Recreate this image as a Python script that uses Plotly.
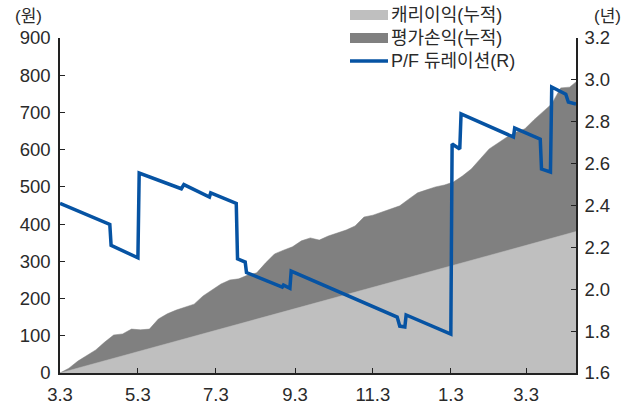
import pandas as pd
import plotly.graph_objects as go

# ---- data ----
start_date = "2022-03-03"
end_date = "2023-04-11"

# cumulative total (carry + valuation), weekly from 3.3, last point = 4.11
total_dates = list(pd.date_range(start_date, periods=58, freq="7D").strftime("%Y-%m-%d")) + [end_date]
total_values = [0, 13, 32, 48, 62, 83, 102, 105, 118, 116,
                118, 145, 159, 169, 177, 185, 207, 223, 239, 250,
                253, 263, 269, 296, 320, 330, 339, 355, 363, 357,
                368, 376, 384, 395, 419, 424, 433, 441, 449, 467,
                484, 492, 500, 505, 513, 529, 548, 575, 602, 618,
                634, 647, 656, 680, 701, 723, 766, 768, 782]

carry_dates = ["2022-03-03", "2022-05-03", "2022-07-03", "2022-09-03",
               "2022-11-03", "2023-01-03", "2023-03-03", "2023-04-11"]
carry_values = [0, 57, 115, 173, 230, 287, 343, 380]

dur_dates = ["2022-03-03", "2022-04-11", "2022-04-12", "2022-05-03", "2022-05-04",
             "2022-06-06", "2022-06-08", "2022-06-28", "2022-06-29", "2022-07-19",
             "2022-07-20", "2022-07-26", "2022-07-27", "2022-08-24", "2022-08-25",
             "2022-08-30", "2022-08-31", "2022-11-22", "2022-11-24", "2022-11-28",
             "2022-11-29", "2023-01-03", "2023-01-04", "2023-01-10", "2023-01-11",
             "2023-02-21", "2023-02-22", "2023-03-14", "2023-03-15", "2023-03-22",
             "2023-03-23", "2023-04-03", "2023-04-05", "2023-04-11"]
dur_values = [2.41, 2.31, 2.21, 2.15, 2.555,
              2.48, 2.50, 2.44, 2.46, 2.41,
              2.145, 2.13, 2.08, 2.01, 2.02,
              2.005, 2.087, 1.867, 1.824, 1.82,
              1.877, 1.786, 2.694, 2.67, 2.837,
              2.727, 2.77, 2.717, 2.574, 2.56,
              2.966, 2.932, 2.894, 2.885]

tick_dates = ["2022-03-03", "2022-05-03", "2022-07-03", "2022-09-03",
              "2022-11-03", "2023-01-03", "2023-03-03"]
tick_labels = ["3.3", "5.3", "7.3", "9.3", "11.3", "1.3", "3.3"]

series_names = ["캐리이익(누적)", "평가손익(누적)", "P/F 듀레이션(R)"]

# ---- styles ----
FONT = "Liberation Sans, Arial, Noto Sans CJK KR, sans-serif"
LIGHT = "#BFBFBF"
DARK = "#808080"
BLUE = "#0653A3"
TXT = "#2a2a2a"
TICKFONT = dict(size=18.5, color=TXT)

W, H = 637, 405
ML, MR, MT, MB = 60, 61, 38, 32
PW, PH = W - ML - MR, H - MT - MB


def px(x):
    return (x - ML) / PW


def py(y):
    return (H - MB - y) / PH


fig = go.Figure()
fig.add_trace(go.Scatter(
    x=total_dates, y=total_values, name=series_names[1], mode="lines",
    fill="tozeroy", fillcolor=DARK, line=dict(color=DARK, width=0.5),
    hoverinfo="skip"))
fig.add_trace(go.Scatter(
    x=carry_dates, y=carry_values, name=series_names[0], mode="lines",
    fill="tozeroy", fillcolor=LIGHT, line=dict(color=LIGHT, width=0.5),
    hoverinfo="skip"))
fig.add_trace(go.Scatter(
    x=dur_dates, y=dur_values, name=series_names[2], mode="lines",
    line=dict(color=BLUE, width=3.5), yaxis="y2", hoverinfo="skip"))

axis_common = dict(showgrid=False, zeroline=False, showline=True,
                   linecolor="#222222", linewidth=1.5, ticks="inside",
                   ticklen=5, tickcolor="#222222", tickwidth=1.2,
                   tickfont=TICKFONT, automargin=False)

# manual legend (keeps the plot area fixed)
shapes = [
    dict(type="rect", xref="paper", yref="paper", x0=px(350), x1=px(388),
         y0=py(20), y1=py(10), fillcolor=LIGHT, line=dict(width=0), layer="above"),
    dict(type="rect", xref="paper", yref="paper", x0=px(350), x1=px(388),
         y0=py(43), y1=py(33), fillcolor=DARK, line=dict(width=0), layer="above"),
    dict(type="line", xref="paper", yref="paper", x0=px(350), x1=px(388),
         y0=py(61), y1=py(61), line=dict(color=BLUE, width=3.5), layer="above"),
]
annotations = []
for name, yc in zip(series_names, [15, 38, 61]):
    annotations.append(dict(text=name, x=px(389), y=py(yc), xref="paper", yref="paper",
                            xanchor="left", yanchor="middle", showarrow=False,
                            font=dict(size=18, color=TXT)))
annotations += [
    dict(text="(원)", x=px(28), y=py(17), xref="paper", yref="paper",
         xanchor="center", yanchor="middle", showarrow=False,
         font=dict(size=17, color=TXT)),
    dict(text="(년)", x=px(607), y=py(17), xref="paper", yref="paper",
         xanchor="center", yanchor="middle", showarrow=False,
         font=dict(size=17, color=TXT)),
]

fig.update_layout(
    width=W, height=H,
    margin=dict(l=ML, r=MR, t=MT, b=MB, autoexpand=False),
    paper_bgcolor="white", plot_bgcolor="white",
    font=dict(family=FONT, size=17, color=TXT),
    showlegend=False,
    xaxis=dict(type="date", range=[start_date, end_date],
               tickvals=tick_dates, ticktext=tick_labels,
               ticklabelstandoff=4, **axis_common),
    yaxis=dict(range=[0, 900], dtick=100, ticklabelstandoff=4, **axis_common),
    yaxis2=dict(range=[1.6, 3.2], dtick=0.2, tickformat=".1f", overlaying="y",
                side="right", ticklabelstandoff=3, **axis_common),
    shapes=shapes,
    annotations=annotations,
)

fig.write_html("out.html", config={"displayModeBar": False},
               post_script="document.body.style.margin='0';document.body.style.padding='0';")
